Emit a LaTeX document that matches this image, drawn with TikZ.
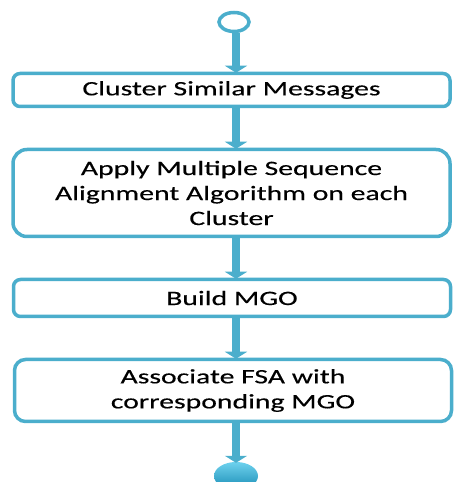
\documentclass[tikz,border=0pt]{standalone}
\usepackage{fontspec}
\setmainfont[FakeStretch=1.45,FakeBold=0.3]{Carlito}
\usetikzlibrary{arrows.meta,shapes.geometric}
\definecolor{aqua}{RGB}{75,174,204}
\definecolor{balltop}{RGB}{110,210,238}
\definecolor{ballbot}{RGB}{25,140,180}
\tikzset{
  stepbox/.style={draw=aqua, line width=3.5pt, fill=white, rounded corners=7pt,
    minimum width=437pt, align=center, inner sep=0pt,
    font=\fontsize{20.5}{25}\selectfont, text=black},
  flowarrow/.style={draw=aqua, line width=8pt, -{Triangle[width=22pt,length=7pt]}, shorten >=-1pt}
}
\begin{document}
\begin{tikzpicture}[x=1pt,y=1pt]
\useasboundingbox (0,0) rectangle (459,482);
\begin{scope}
\clip (0,0) rectangle (459,482);
\node[ellipse, draw=aqua, line width=3.5pt, fill=white, minimum width=30pt, minimum height=19pt, inner sep=0pt] (start) at (234,460) {};
\node[stepbox, minimum height=33pt] (b1) at (231.5,392) {Cluster Similar Messages};
\node[stepbox, minimum height=87pt, rounded corners=14pt] (b2) at (231.5,289) {Apply Multiple Sequence\\Alignment Algorithm on each\\Cluster};
\node[stepbox, minimum height=37pt] (b3) at (232,184) {Build MGO};
\node[stepbox, minimum height=62pt, rounded corners=11pt] (b4) at (233,91.5) {Associate FSA with\\corresponding MGO};
\node[ellipse, minimum width=44pt, minimum height=28pt, inner sep=0pt, top color=balltop, bottom color=ballbot, draw=none] (end) at (236,6) {};
\draw[flowarrow] (start.south -| 236,0) -- (b1.north -| 236,0);
\draw[flowarrow] (b1.south -| 236,0) -- (b2.north -| 236,0);
\draw[flowarrow] (b2.south -| 236,0) -- (b3.north -| 236,0);
\draw[flowarrow] (b3.south -| 236,0) -- (b4.north -| 236,0);
\draw[flowarrow] (b4.south -| 236,0) -- (end.north);
\end{scope}
\end{tikzpicture}
\end{document}
